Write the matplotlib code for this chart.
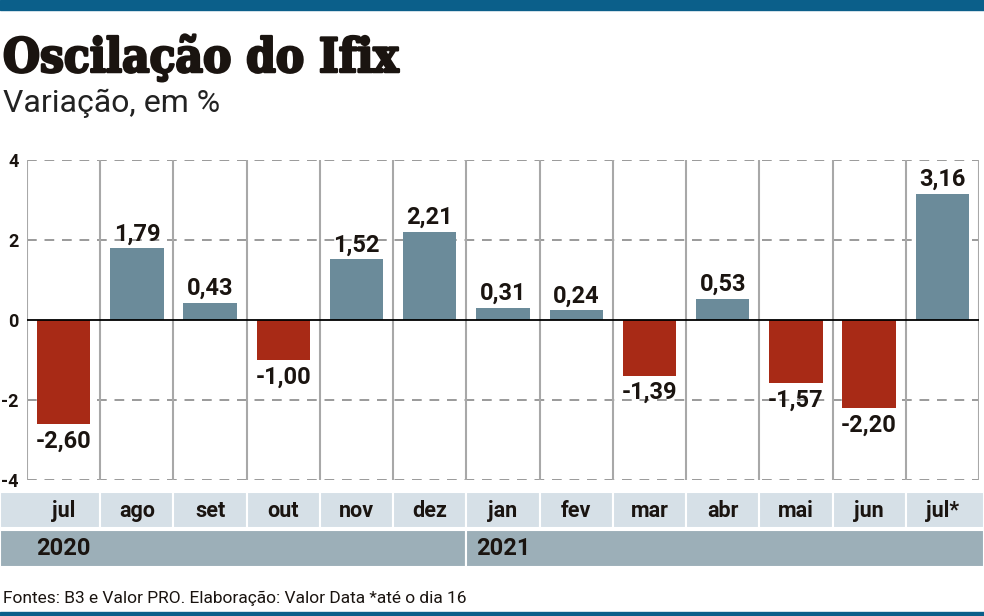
import matplotlib.pyplot as plt
from matplotlib.patches import Rectangle
from matplotlib import font_manager
import matplotlib.patheffects as pe

meses = ["jul", "ago", "set", "out", "nov", "dez", "jan", "fev", "mar", "abr", "mai", "jun", "jul*"]
valores = [-2.60, 1.79, 0.43, -1.00, 1.52, 2.21, 0.31, 0.24, -1.39, 0.53, -1.57, -2.20, 3.16]
anos = ["2020", "2021"]
inicio_ano = [0, 6]  # indice do primeiro mes de cada ano
yticks = [-4, -2, 0, 2, 4]

AZUL = "#6b8b9a"
VERMELHO = "#a82a16"
FAIXA_MES = "#d6e0e7"
FAIXA_ANO = "#9cafb8"
TOPO = "#0b5f8a"
TEXTO = "#1a1410"

nomes = {f.name for f in font_manager.fontManager.ttflist}
narrow = "Liberation Sans Narrow" if "Liberation Sans Narrow" in nomes else "Roboto"
sans = [narrow, "DejaVu Sans"]

W, H = 984, 616
fig = plt.figure(figsize=(W / 100, H / 100), dpi=100)

# faixas azuis no topo e embaixo
fig.patches.append(Rectangle((0, 1 - 10 / H), 1, 10 / H, transform=fig.transFigure, color=TOPO))
fig.patches.append(Rectangle((0, 0), 1, 4 / H, transform=fig.transFigure, color=TOPO))

# eixo principal
x0, x1 = 27, 979
ax = fig.add_axes([x0 / W, 1 - 480 / H, (x1 - x0) / W, 320 / H])
n = len(meses)
pos = list(range(n))
cores = [AZUL if v >= 0 else VERMELHO for v in valores]
ax.bar(pos, valores, width=0.73, color=cores, zorder=3)
ax.set_xlim(-0.5, n - 0.5)
ax.set_ylim(-4, 4)

for y in yticks:
    if y == 0:
        ax.axhline(0, color="black", lw=1.3, zorder=4)
    else:
        ax.axhline(y, color="#9a9a9a", lw=1.4, ls=(0, (5, 4)), zorder=1)
for i in range(n + 1):
    ax.axvline(i - 0.5, color="#a8a8a8", lw=1.5, zorder=2)

for s in ax.spines.values():
    s.set_visible(False)
ax.set_xticks([])
ax.set_yticks(yticks)
ax.set_yticklabels([str(t) for t in yticks], fontsize=13, fontweight="bold", color=TEXTO, family=sans)
ax.tick_params(axis="y", length=0, pad=6)

for i, v in enumerate(valores):
    txt = f"{v:.2f}".replace(".", ",")
    if v >= 0:
        ax.annotate(txt, (i, v), xytext=(0, 2), textcoords="offset points", ha="center", va="bottom",
                    fontsize=17, fontweight="bold", color=TEXTO, family=sans, zorder=5)
    else:
        ax.annotate(txt, (i, v), xytext=(0, -4), textcoords="offset points", ha="center", va="top",
                    fontsize=17, fontweight="bold", color=TEXTO, family=sans, zorder=5)

# faixas de meses e anos
unit = (x1 - x0) / n
bx0 = -0.5 - x0 / unit
bx1 = n - 0.5 + (W - x1) / unit
bax = fig.add_axes([0, 1 - 567 / H, 1, (567 - 492) / H])
bax.set_xlim(bx0, bx1)
bax.set_ylim(0, 2)
bax.axis("off")
esq = [bx0] + [i - 0.5 for i in range(1, n)]
dir_ = [i + 0.5 for i in range(n - 1)] + [bx1]
for i in range(n):
    bax.add_patch(Rectangle((esq[i], 1.03), dir_[i] - esq[i], 0.97, facecolor=FAIXA_MES,
                            edgecolor="white", lw=1.5))
    bax.text(i, 1.5, meses[i], ha="center", va="center", fontsize=15.5, fontweight="bold",
             color=TEXTO, family=sans)
limites = [bx0, inicio_ano[1] - 0.5, bx1]
for k, ano in enumerate(anos):
    bax.add_patch(Rectangle((limites[k], 0), limites[k + 1] - limites[k], 1.0, facecolor=FAIXA_ANO,
                            edgecolor="white", lw=1.5))
    bax.text(inicio_ano[k], 0.5, ano, ha="center", va="center", fontsize=17, fontweight="bold",
             color=TEXTO, family=sans)

# textos
fig.text(3 / W, 1 - 72 / H, "Oscilação do Ifix", fontsize=34, fontweight="black", fontstretch="condensed",
         color=TEXTO, family=["DejaVu Serif"], ha="left", va="baseline",
         path_effects=[pe.withStroke(linewidth=1.8, foreground=TEXTO)])
fig.text(3 / W, 1 - 112 / H, "Variação, em %", fontsize=23, color="#222222", family=sans,
         ha="left", va="baseline")
fig.text(3 / W, 1 - 603 / H, "Fontes: B3 e Valor PRO. Elaboração: Valor Data *até o dia 16",
         fontsize=12.5, color=TEXTO, family=sans, ha="left", va="baseline")

fig.savefig("out.png", dpi=100)
